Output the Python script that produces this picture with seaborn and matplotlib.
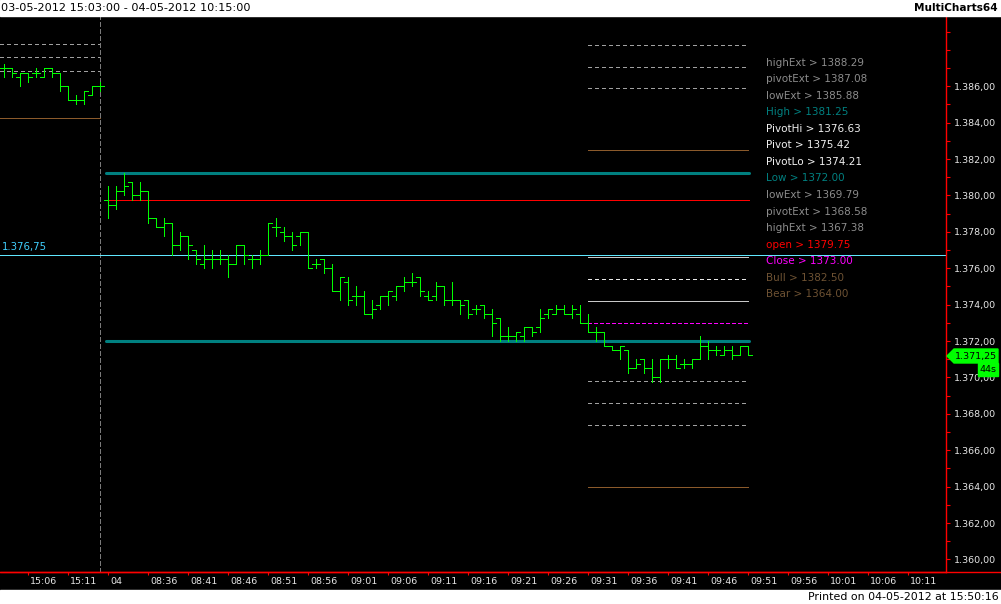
import numpy as np
import pandas as pd
import matplotlib
matplotlib.use("Agg")
import matplotlib.pyplot as plt
import seaborn as sns
from matplotlib.patches import Rectangle, Polygon
from matplotlib.lines import Line2D
from matplotlib.ticker import FuncFormatter, MultipleLocator
from matplotlib.transforms import ScaledTranslation

# 1-minute OHLC bars: 03-05 15:03..15:15, then 04-05 08:31..09:51
opens = [1387.0, 1387.0, 1386.5, 1386.75, 1386.75, 1386.5, 1387.0, 1386.75, 1386.0, 1385.25,
         1385.25, 1385.5, 1386.0,
         1379.75, 1379.5, 1380.25, 1380.75, 1380.0, 1380.25, 1378.75, 1378.25, 1378.5, 1377.25,
         1377.75, 1377.0, 1376.25, 1376.5, 1376.5, 1376.5, 1376.25, 1377.25, 1376.5, 1376.5,
         1376.75, 1378.25, 1378.0, 1377.75, 1377.75, 1378.0, 1376.25, 1376.5, 1376.0, 1374.75,
         1375.25, 1374.5, 1374.5, 1373.5, 1374.0, 1374.5, 1374.5, 1375.0, 1375.25, 1375.5,
         1374.5, 1374.5, 1375.0, 1374.25, 1374.25, 1374.25, 1373.75, 1374.0, 1373.5, 1373.25,
         1372.25, 1372.25, 1372.25, 1372.75, 1372.75, 1373.5, 1373.5, 1373.75, 1373.5, 1373.5,
         1373.0, 1372.5, 1372.5, 1371.75, 1371.5, 1371.5, 1370.5, 1371.0, 1370.5, 1370.0,
         1371.0, 1371.0, 1370.75, 1370.75, 1371.0, 1371.75, 1371.5, 1371.25, 1371.5, 1371.25,
         1371.75]
highs = [1387.25, 1387.0, 1386.75, 1386.75, 1387.0, 1387.0, 1387.0, 1386.75, 1386.0, 1385.5,
         1385.75, 1386.0, 1386.25,
         1380.5, 1380.5, 1381.25, 1380.75, 1380.75, 1380.25, 1378.75, 1378.75, 1378.5, 1378.0,
         1377.75, 1377.0, 1377.25, 1377.0, 1377.0, 1376.75, 1377.25, 1377.25, 1376.75, 1377.0,
         1378.5, 1378.75, 1378.25, 1378.0, 1378.0, 1378.0, 1376.5, 1376.5, 1376.25, 1375.5,
         1375.5, 1375.0, 1374.75, 1374.25, 1374.5, 1374.75, 1375.0, 1375.5, 1375.75, 1375.5,
         1374.75, 1375.25, 1375.0, 1375.25, 1374.25, 1374.25, 1374.0, 1374.0, 1373.75, 1373.25,
         1372.75, 1372.5, 1372.75, 1372.75, 1373.75, 1373.75, 1374.0, 1374.0, 1374.0, 1374.0,
         1373.5, 1372.75, 1372.5, 1371.75, 1371.75, 1371.5, 1371.0, 1371.0, 1371.0, 1371.0,
         1371.25, 1371.25, 1371.0, 1371.0, 1372.25, 1372.0, 1371.75, 1371.75, 1371.75, 1371.75,
         1371.75]
lows = [1386.5, 1386.5, 1386.0, 1386.25, 1386.5, 1386.5, 1386.5, 1385.75, 1385.25, 1385.0,
        1385.0, 1385.5, 1385.75,
        1378.75, 1379.25, 1380.0, 1379.75, 1379.75, 1378.5, 1378.25, 1377.75, 1376.75, 1377.0,
        1376.5, 1376.25, 1376.0, 1376.0, 1376.25, 1375.5, 1376.25, 1376.25, 1376.0, 1376.25,
        1376.75, 1377.75, 1377.5, 1377.0, 1377.25, 1376.0, 1376.0, 1375.75, 1374.75, 1374.25,
        1374.0, 1374.0, 1373.5, 1373.25, 1373.75, 1374.0, 1374.25, 1374.75, 1375.0, 1374.5,
        1374.25, 1374.25, 1374.0, 1374.0, 1373.5, 1373.25, 1373.5, 1373.25, 1372.25, 1372.0,
        1372.0, 1372.0, 1372.0, 1372.25, 1372.5, 1373.25, 1373.5, 1373.5, 1373.25, 1373.0,
        1372.5, 1372.0, 1371.75, 1371.5, 1371.0, 1370.25, 1370.5, 1370.25, 1369.75, 1369.75,
        1370.5, 1370.5, 1370.5, 1370.5, 1371.0, 1371.0, 1371.25, 1371.25, 1371.0, 1371.25,
        1371.25]
closes = [1387.0, 1386.75, 1386.75, 1386.5, 1386.75, 1387.0, 1386.75, 1386.0, 1385.25, 1385.25,
          1385.75, 1386.0, 1386.0,
          1379.5, 1380.25, 1380.5, 1380.0, 1380.25, 1378.75, 1378.25, 1378.5, 1377.25, 1377.75,
          1377.25, 1376.5, 1376.5, 1376.5, 1376.5, 1376.25, 1377.25, 1376.75, 1376.5, 1376.75,
          1378.5, 1378.25, 1377.75, 1377.25, 1378.0, 1376.0, 1376.25, 1376.0, 1374.75, 1375.5,
          1374.25, 1374.5, 1373.5, 1373.75, 1374.5, 1374.75, 1375.0, 1375.25, 1375.25, 1374.75,
          1374.25, 1375.0, 1374.25, 1374.25, 1374.0, 1373.5, 1373.75, 1373.5, 1373.0, 1372.25,
          1372.25, 1372.5, 1372.75, 1372.5, 1373.25, 1373.75, 1373.75, 1373.5, 1373.75, 1373.0,
          1372.5, 1372.5, 1371.75, 1371.5, 1371.75, 1370.5, 1370.75, 1370.5, 1370.0, 1371.0,
          1371.0, 1370.5, 1370.75, 1371.0, 1371.75, 1371.5, 1371.5, 1371.5, 1371.25, 1371.75,
          1371.25]

tick_labels = ["15:06", "15:11", "04", "08:36", "08:41", "08:46", "08:51", "08:56", "09:01",
               "09:06", "09:11", "09:16", "09:21", "09:26", "09:31", "09:36", "09:41", "09:46",
               "09:51", "09:56", "10:01", "10:06", "10:11"]

# today's pivot study levels (legend order)
level_names = ["highExt", "pivotExt", "lowExt", "High", "PivotHi", "Pivot", "PivotLo", "Low",
               "lowExt", "pivotExt", "highExt", "open", "Close", "Bull", "Bear"]
level_values = [1388.29, 1387.08, 1385.88, 1381.25, 1376.63, 1375.42, 1374.21, 1372.00,
                1369.79, 1368.58, 1367.38, 1379.75, 1373.00, 1382.50, 1364.00]

# previous session levels still visible on the left
prev_dashed = [1388.30, 1387.60, 1386.85]
prev_brown = [1384.25]

hline_value = 1376.75
last_price = 1371.25
timer_text = "44s"

W, H = 1001, 604


def fx(px):
    return px / W


def fy(py):
    return 1 - py / H


def eu(v):
    return f"{v:,.2f}".replace(",", "X").replace(".", ",").replace("X", ".")


sns.set_theme(style="dark", rc={"axes.facecolor": "black", "figure.facecolor": "black"})
plt.rcParams["font.family"] = ["DejaVu Sans"]
plt.rcParams["lines.scale_dashes"] = False

fig = plt.figure(figsize=(W / 100, H / 100), dpi=100, facecolor="black")
ax = fig.add_axes([0, fy(572), fx(946), fy(16) - fy(572)])
ax.set_facecolor("black")
ax.grid(False)

n_prev = 13
idx = np.arange(len(opens))
first_day = n_prev
last_bar = len(opens) - 1

thin = 0.6

# level lines
gray = "#a0a0a0"
teal = "#008080"
brown = "#8b5a2b"
dash = (0, (2.2, 2.2))
styles = {
    "highExt": (gray, thin, dash),
    "pivotExt": (gray, thin, dash),
    "lowExt": (gray, thin, dash),
    "PivotHi": ("#c8c8c8", thin, "-"),
    "Pivot": ("#e8e8e8", thin, dash),
    "PivotLo": ("#c8c8c8", thin, "-"),
    "Close": ("#ff00ff", thin, (0, (2.2, 1.5))),
    "Bull": (brown, thin, "-"),
    "Bear": (brown, thin, "-"),
    "High": (teal, 2.2, "-"),
    "Low": (teal, 2.2, "-"),
    "open": ("#ff0000", thin, "-"),
}
for name, val in zip(level_names, level_values):
    c, lw, ls = styles[name]
    if name in ("High", "Low", "open"):
        x0, x1 = first_day - 0.3, last_bar + 0.1
    else:
        x0, x1 = 73, last_bar
    sns.lineplot(x=[x0, x1], y=[val, val], ax=ax, color=c, linewidth=lw, estimator=None)
    ax.lines[-1].set_linestyle(ls)
    if lw < 1:
        ax.lines[-1].set_antialiased(False)

for val in prev_dashed:
    sns.lineplot(x=[-0.5, 12], y=[val, val], ax=ax, color=gray, linewidth=thin, estimator=None)
    ax.lines[-1].set_linestyle(dash)
    ax.lines[-1].set_antialiased(False)
for val in prev_brown:
    sns.lineplot(x=[-0.5, 12], y=[val, val], ax=ax, color=brown, linewidth=thin, estimator=None)
    ax.lines[-1].set_antialiased(False)

# session separator
ax.axvline(12, color="#7a7a7a", lw=thin, linestyle=(0, (3, 1.6)), antialiased=False)

# manual horizontal line
ax.axhline(hline_value, color="#60e8ff", lw=thin, antialiased=False)
fig.text(fx(2), fy(247), eu(hline_value), color="#40d0ff", fontsize=7.3, ha="left", va="center")

# OHLC bars
green = "#00ff00"
ax.vlines(idx, lows, highs, color=green, lw=thin, antialiased=False)
ax.hlines(opens, idx - 0.45, idx, color=green, lw=thin, antialiased=False)
ax.hlines(closes, idx, idx + 0.45, color=green, lw=thin, antialiased=False)

ax.set_xlim(-0.5, 117.75)
ax.set_ylim(1359.31, 1389.86)

# axes styling
for s in ("left", "top"):
    ax.spines[s].set_visible(False)
ax.spines["right"].set_color("red")
ax.spines["right"].set_linewidth(1.0)
ax.spines["bottom"].set_color("red")
ax.spines["bottom"].set_linewidth(1.0)

ax.yaxis.tick_right()
ax.set_yticks(np.arange(1360, 1387, 2))
ax.yaxis.set_minor_locator(MultipleLocator(1))
ax.yaxis.set_major_formatter(FuncFormatter(lambda v, p: eu(v)))
ax.tick_params(axis="y", which="both", length=3, width=0.8, color="red", pad=3,
               labelcolor="#e6e6e6", labelsize=6.8, right=True, left=False)

ax.set_xticks(3 + 5 * np.arange(len(tick_labels)))
ax.set_xticklabels(tick_labels)
ax.tick_params(axis="x", length=2.2, width=0.8, color="red", pad=1.5,
               labelcolor="#e6e6e6", labelsize=6.8, bottom=True)
shift = ScaledTranslation(2 / 100, 0, fig.dpi_scale_trans)
for lbl in ax.get_xticklabels():
    lbl.set_horizontalalignment("left")
    lbl.set_transform(lbl.get_transform() + shift)

# level legend text
text_colors = {
    "highExt": "#8c8c8c", "pivotExt": "#8c8c8c", "lowExt": "#8c8c8c",
    "High": teal, "Low": teal,
    "PivotHi": "#f0f0f0", "Pivot": "#f0f0f0", "PivotLo": "#f0f0f0",
    "open": "#ff0000", "Close": "#ff00ff", "Bull": "#6e5233", "Bear": "#6e5233",
}
for k, (name, val) in enumerate(zip(level_names, level_values)):
    fig.text(fx(766), fy(62.5 + 16.57 * k), f"{name} > {val:.2f}", color=text_colors[name],
             fontsize=7.5, ha="left", va="center")

# baseline across the full width
fig.add_artist(Line2D([0, 1], [fy(572), fy(572)], color="red", lw=1.0, transform=fig.transFigure))

# last price marker
pts = [(947, 356), (954, 349), (998, 349), (998, 363), (954, 363)]
fig.add_artist(Polygon([(fx(a), fy(b)) for a, b in pts], closed=True, color=green,
                       transform=fig.transFigure))
fig.text(fx(976), fy(356), eu(last_price), color="black", fontsize=6.8, ha="center", va="center")
fig.add_artist(Rectangle((fx(978), fy(376)), fx(998) - fx(978), (376 - 363) / H, color=green,
                         transform=fig.transFigure))
fig.text(fx(988), fy(369.5), timer_text, color="black", fontsize=6.8, ha="center", va="center")

# header and footer strips
fig.add_artist(Rectangle((0, fy(16)), 1, 16 / H, color="white", transform=fig.transFigure))
fig.text(fx(1), fy(8), "03-05-2012 15:03:00 - 04-05-2012 10:15:00", color="black",
         fontsize=8.1, ha="left", va="center")
fig.text(fx(998), fy(8), "MultiCharts64", color="black", fontsize=7.6, fontweight="bold",
         ha="right", va="center")
fig.add_artist(Rectangle((0, 0), 1, 14 / H, color="white", transform=fig.transFigure))
fig.text(fx(999), fy(597), "Printed on 04-05-2012 at 15:50:16", color="black",
         fontsize=7.9, ha="right", va="center")

fig.savefig("out.png", dpi=100, facecolor="black")
